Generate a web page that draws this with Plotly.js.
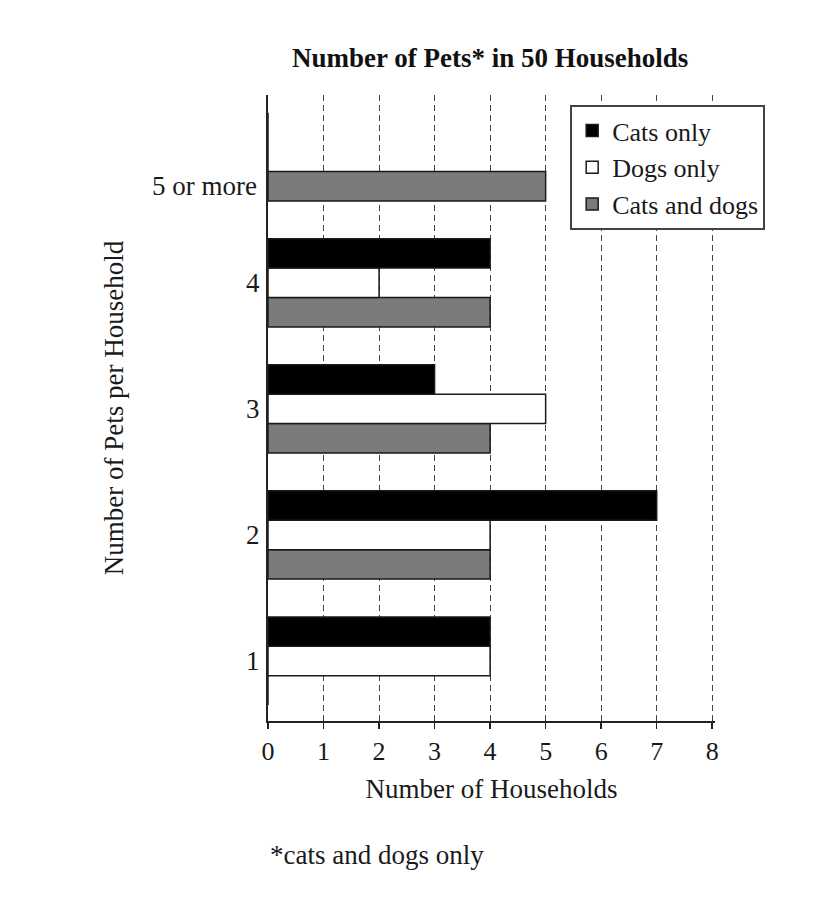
<!DOCTYPE html>
<html>
<head>
<meta charset="utf-8">
<script src="https://cdn.plot.ly/plotly-3.0.1.min.js"></script>
<style>html,body{margin:0;padding:0;background:#fff;}</style>
</head>
<body>
<div id="chart" style="width:817px;height:909px;"></div>
<script>
// Data
const categories = ['1', '2', '3', '4', '5 or more'];
const catsOnly = [4, 7, 3, 4, 0];
const dogsOnly = [4, 4, 5, 2, 0];
const catsAndDogs = [0, 4, 4, 4, 5];
const seriesNames = ['Cats only', 'Dogs only', 'Cats and dogs'];
const xTickValues = [0, 1, 2, 3, 4, 5, 6, 7, 8];

const FONT = 'Liberation Serif, Times New Roman, serif';
const lineStyle = {color: '#1a1a1a', width: 1.5};

// horizontal grouped bars: first trace is drawn lowest in each group
const traces = [
  {type: 'bar', orientation: 'h', name: seriesNames[2], y: categories, x: catsAndDogs,
   marker: {color: '#7b7b7b', line: lineStyle}},
  {type: 'bar', orientation: 'h', name: seriesNames[1], y: categories, x: dogsOnly,
   marker: {color: '#ffffff', line: lineStyle}},
  {type: 'bar', orientation: 'h', name: seriesNames[0], y: categories, x: catsOnly,
   marker: {color: '#000000', line: lineStyle}}
];

const layout = {
  width: 817, height: 909,
  margin: {l: 268, r: 102, t: 95, b: 188},
  paper_bgcolor: '#ffffff', plot_bgcolor: '#ffffff',
  font: {family: FONT, color: '#1a1a1a', size: 26},
  barmode: 'group', bargap: 0.3, bargroupgap: 0,
  showlegend: true,
  title: {text: 'Number of Pets* in 50 Households', font: {family: FONT, size: 27, weight: 'bold', color: '#111'},
          xref: 'paper', x: 0.497, xanchor: 'center', yref: 'container', y: 0.937, yanchor: 'middle'},
  xaxis: {
    range: [0, 8.05], tickvals: xTickValues, ticktext: xTickValues.map(String),
    showgrid: true, gridcolor: '#444', griddash: '6px,4px', gridwidth: 1,
    zeroline: false, showline: true, linecolor: '#222', linewidth: 2,
    ticks: 'outside', ticklen: 6, tickcolor: '#222', tickwidth: 1.5,
    tickfont: {family: FONT, size: 26, color: '#1a1a1a'},
    title: {text: 'Number of Households', font: {family: FONT, size: 27, color: '#1a1a1a'}, standoff: 14}
  },
  yaxis: {
    type: 'category', categoryorder: 'array', categoryarray: categories,
    range: [-0.476, 4.49],
    tickvals: categories, ticktext: categories.map(c => c === '5 or more' ? '' : c),
    showgrid: false, zeroline: false, showline: true, linecolor: '#222', linewidth: 2,
    ticks: '', ticklabelstandoff: 1,
    tickfont: {family: FONT, size: 27, color: '#1a1a1a'},
    title: {text: 'Number of Pets per Household', font: {family: FONT, size: 27, color: '#1a1a1a'}, standoff: 115}
  },
  legend: {
    x: 0.676, y: 0.984, xanchor: 'left', yanchor: 'top',
    traceorder: 'reversed', bgcolor: '#ffffff', bordercolor: '#444', borderwidth: 2,
    font: {family: FONT, size: 26, color: '#1a1a1a'}
  },
  annotations: [
    {text: categories[4], xref: 'paper', x: 0, xanchor: 'right', xshift: -9,
     yref: 'y', y: categories[4], yanchor: 'middle', yshift: -29, showarrow: false,
     font: {family: FONT, size: 27, color: '#1a1a1a'}},
    {text: '*cats and dogs only', xref: 'paper', x: 0, xanchor: 'left',
     yref: 'paper', y: -0.214, yanchor: 'middle', showarrow: false,
     font: {family: FONT, size: 27, color: '#1a1a1a'}}
  ]
};

Plotly.newPlot('chart', traces, layout, {displayModeBar: false, staticPlot: true});
</script>
</body>
</html>
